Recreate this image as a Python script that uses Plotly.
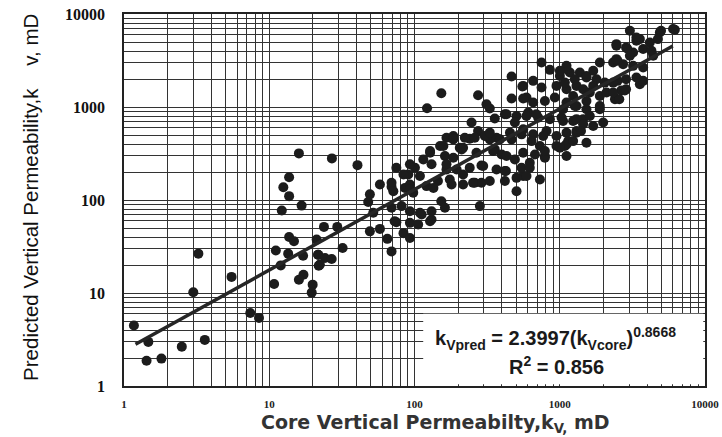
import plotly.graph_objects as go

# Scatter data (core kv, predicted kv), mD
core_kv = [
    1.17, 1.47, 1.43, 1.81, 2.5, 3.6, 3.0, 3.25, 5.5, 7.4, 8.5,
    10.8, 12.0, 11.1, 13.5, 13.7, 14.8, 17.1, 17.2, 16.0, 19.9, 19.6, 21.2, 21.7, 21.9,
    21.7, 24.2, 26.9, 22.3, 23.8, 29.4, 32,
    16, 13.7, 12.5, 13.7, 16.7, 12.2, 27, 40.5,
    48, 52, 49.3, 57.8, 65, 69.5, 75, 84, 93, 93, 106, 73, 69.5, 81.5, 93, 109, 112,
    131, 131, 128, 153, 162, 69.5, 86, 98, 93, 90.6, 100.7, 75, 84, 93, 115, 128, 128,
    150, 166, 185, 205, 162, 131, 166, 109, 69.5, 57.8, 49.3, 71.5, 93, 121, 145, 175,
    135, 122, 153,
    274, 313, 330, 466, 749, 855, 560, 656, 466, 590, 357, 419, 247, 274, 240, 185, 216,
    330, 357, 398, 185, 289, 216, 260, 289, 419, 504, 426, 560, 491, 622, 790, 1084, 282,
    553, 749, 1002, 1175, 1375, 1527, 950, 1113, 1304, 1449, 560, 656, 790, 925, 1113,
    1304, 1527, 504, 607, 710, 855, 1028, 1236, 1449, 305, 367, 454, 560, 656, 811, 950,
    1113, 1304, 730, 950, 1143,
    3370, 4170, 2456, 2860, 3200, 3750, 4280, 2330, 2730, 3200, 3750, 1888, 1113, 1700,
    1084, 1270, 1527, 1790, 2040, 2500, 2860, 3560, 1236, 1610, 1888, 2400, 2650, 1054,
    1270, 1527, 1888, 1054, 1304, 1610,
    3040, 4890, 6200, 3560, 2456, 2910, 4740, 2500, 3750, 2806, 2430, 2100, 1449, 1304,
    1113, 790,
    430, 491, 590, 690, 185, 222, 260, 330, 387, 466, 546, 640, 769, 158, 211, 267, 348,
    430, 560, 675, 166, 195, 240, 297, 367, 419, 546, 622, 180, 216, 253, 330, 590, 730,
    504, 790, 1002, 1236, 1113, 1527, 1400, 1700, 1990, 2570, 2860, 2330, 1888, 2330,
    3370, 1700, 2456, 3040, 4400, 3370, 4980, 6030, 1113, 1002,
]
pred_kv = [
    4.47, 2.98, 1.87, 1.97, 2.65, 3.13, 10.2, 26.5, 14.9, 6.1, 5.4,
    12.5, 19.8, 28.6, 26.5, 40, 36, 25.2, 15.7, 13.9, 12.3, 10.1, 37.5, 25.8, 19.6,
    25.8, 23.8, 23.2, 20.2, 51.4, 51.4, 30.5,
    317, 176, 137, 110, 87, 77, 280, 237,
    95, 72.8, 46, 48.9, 38.2, 28, 57.7, 44, 39, 56.8, 54.5, 59, 82.4, 86, 75.7, 72.8, 69.8,
    75.7, 61.6, 59, 97, 82.4, 139, 135, 120, 147, 188, 222, 222, 188, 242, 273, 322, 336,
    380, 468, 488, 365, 297, 242, 213, 181, 153, 147, 115, 124, 130, 141, 160, 166,
    135, 970, 1407,
    1340, 1071, 962, 2130, 3014, 2508, 1687, 1910, 1233, 1265, 751, 836, 680, 552, 457, 457, 365,
    449, 350, 309, 285, 235, 188, 153, 153, 160, 124, 205, 181, 273, 252, 297, 380, 86,
    1660, 1620, 2160, 2350, 2350, 2160, 1687, 1552, 1687, 1552, 1233, 1116, 1161, 1265, 1116,
    1026, 1161, 800, 871, 769, 740, 769, 708, 740, 488, 468, 530, 575, 508, 552, 488,
    530, 552, 380, 380, 430,
    5150, 4940, 4740, 4370, 3860, 4200, 4020, 3014, 2890, 2770, 2660, 3014, 2550, 2450,
    1830, 1990, 2075, 1990, 1830, 1910, 1990, 1760, 1315, 1432, 1315, 1210, 1504, 946,
    1026, 946, 1026, 708, 740, 800,
    6610, 6340, 6770, 5370, 4550, 4265, 5370, 3140, 1910, 1504, 1233, 1432, 652, 530,
    396, 285,
    836, 680, 800, 836, 449, 468, 468, 530, 449, 449, 508, 430, 488, 380, 350, 322, 336,
    297, 322, 309, 242, 213, 222, 232, 213, 205, 222, 222, 147, 147, 153, 160, 181, 166,
    173, 336, 365, 430, 297, 413, 552, 625, 680, 1210, 1552, 1432, 946, 1830,
    2075, 1687, 3270, 3550, 3550, 5600, 6610, 6890, 2770, 2450,
]

# Power-law fit shown on the chart
fit_coef = 2.3997
fit_exp = 0.8668
fit_x = [1.2, 6000]
fit_y = [fit_coef * v ** fit_exp for v in fit_x]

decades = [1, 10, 100, 1000, 10000]
decade_labels = ["1", "10", "100", "1000", "10000"]

# gridline positions: 1..9 within each decade, labels only at decades
grid_vals = []
grid_text = []
for i, d in enumerate(decades[:-1]):
    for m in range(1, 10):
        grid_vals.append(d * m)
        grid_text.append(decade_labels[i] if m == 1 else "")
grid_vals.append(decades[-1])
grid_text.append(decade_labels[-1])

fig = go.Figure()
fig.add_trace(go.Scatter(
    x=core_kv, y=pred_kv, mode="markers",
    marker=dict(size=10, color="#1c1c1c", line=dict(width=0)),
    showlegend=False,
))
fig.add_trace(go.Scatter(
    x=fit_x, y=fit_y, mode="lines",
    line=dict(color="#262626", width=3.5),
    showlegend=False,
))

fig.update_xaxes(
    type="log", range=[0, 4], automargin=False,
    tickmode="array", tickvals=grid_vals, ticktext=grid_text,
    tickfont=dict(family="Liberation Serif", size=11, color="#222", weight="bold"),
    showgrid=True, gridcolor="#333", gridwidth=1,
    showline=True, linecolor="#222", linewidth=1.5, mirror=True,
    ticks="", ticklabelstandoff=7, zeroline=False, ticklabeloverflow="allow",
)
fig.update_yaxes(
    type="log", range=[0, 4], automargin=False,
    tickmode="array", tickvals=grid_vals, ticktext=grid_text,
    tickfont=dict(family="Liberation Serif", size=16, color="#111", weight="bold"),
    showgrid=True, gridcolor="#333", gridwidth=1,
    showline=True, linecolor="#222", linewidth=1.5, mirror=True,
    ticks="", ticklabelstandoff=14, zeroline=False, ticklabeloverflow="allow",
)

fig.add_shape(type="rect", xref="paper", yref="paper",
              x0=0.515, x1=0.997, y0=0.005, y1=0.194,
              fillcolor="white", line=dict(width=0), layer="above")

fig.add_annotation(
    xref="paper", yref="paper", x=0.7435, y=0.129, xanchor="center", yanchor="middle",
    text="k<sub>Vpred</sub> = 2.3997(k<sub>Vcore</sub>)<sup>0.8668</sup>",
    showarrow=False, font=dict(family="Liberation Sans", size=20, color="#1a1a1a", weight="bold"),
)
fig.add_annotation(
    xref="paper", yref="paper", x=0.745, y=0.056, xanchor="center", yanchor="middle",
    text="R<sup>2</sup> = 0.856",
    showarrow=False, font=dict(family="Liberation Sans", size=20, color="#1a1a1a", weight="bold"),
)

# axis titles
fig.add_annotation(
    xref="paper", yref="paper", x=0.537, y=-0.1, xanchor="center", yanchor="middle",
    text="Core Vertical Permeabilty,k<sub>V,</sub> mD",
    showarrow=False, font=dict(family="DejaVu Sans", size=19, color="#333", weight="bold"),
)
fig.add_annotation(
    xref="paper", yref="paper", x=-0.162, y=0.508, xanchor="center", yanchor="middle",
    textangle=-90,
    text="Predicted Vertical Permeability,k&nbsp;&nbsp;&nbsp;&nbsp;v, mD",
    showarrow=False, font=dict(family="Liberation Sans Narrow, Liberation Sans", size=20.5, color="#111"),
)

fig.update_layout(
    width=722, height=437,
    margin=dict(l=124, r=17, t=14, b=51),
    paper_bgcolor="white", plot_bgcolor="white",
)

# remove the browser's default page margin so the figure sits at the window's corner
fig.write_html("out.html", config={"displayModeBar": False},
               post_script="document.body.style.margin='0';")
